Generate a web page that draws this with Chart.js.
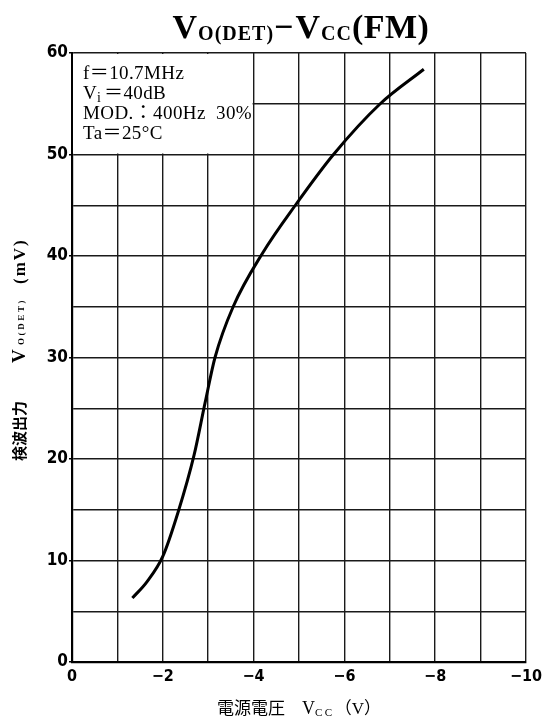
<!DOCTYPE html>
<html lang="ja">
<head>
  <meta charset="UTF-8">
  <title>VO(DET) - VCC (FM)</title>
  <script src="https://cdn.jsdelivr.net/npm/chart.js"></script>
  <style>
    html, body { margin: 0; padding: 0; background: #fff; }
    #wrap { width: 547px; height: 720px; position: relative; }
  </style>
</head>
<body>
  <div id="wrap"><canvas id="chart"></canvas></div>
  <script>
    // supply voltage (V) and detector output (mV)
    const vcc = [-1.33, -1.65, -2.0, -2.34, -2.69, -2.93, -3.15, -3.55, -4.2, -4.92, -5.76, -6.79, -7.75];
    const vout = [6.3, 7.9, 10.4, 14.8, 20.4, 25.5, 30.0, 35.0, 40.3, 45.0, 50.0, 55.0, 58.4];

    // tick labels
    const xTickValues = [0, -2, -4, -6, -8, -10];
    const xTickTexts = ['0', '−2', '−4', '−6', '−8', '−10'];
    const yTickValues = [0, 10, 20, 30, 40, 50, 60];

    // condition notes in the upper-left box
    const notes = [
      [['f＝10.7MHz']],
      [['V'], ['i', 'sub'], ['＝40dB']],
      [['MOD.：400Hz  30%']],
      [['Ta＝25°C']]
    ];

    const SERIF = '"Liberation Serif", "Noto Sans CJK JP", serif';
    const CJK = '"Noto Sans CJK JP", sans-serif';
    const TICKFONT = '"Liberation Sans Narrow", "DejaVu Sans Condensed", "Liberation Sans", sans-serif';

    // draws text pieces one after another, returns end x
    function drawPieces(ctx, pieces, x, y) {
      pieces.forEach(p => {
        ctx.font = p.font;
        ctx.letterSpacing = (p.ls || 0) + 'px';
        ctx.fillText(p.t, x, y + (p.dy || 0));
        x += ctx.measureText(p.t).width + (p.gap || 0);
      });
      ctx.letterSpacing = '0px';
      return x;
    }
    function piecesWidth(ctx, pieces) {
      let w = 0;
      pieces.forEach(p => {
        ctx.font = p.font;
        ctx.letterSpacing = (p.ls || 0) + 'px';
        w += ctx.measureText(p.t).width + (p.gap || 0);
      });
      ctx.letterSpacing = '0px';
      return w;
    }

    const textPlugin = {
      id: 'texts',
      beforeDatasetsDraw(chart) {
        // blank out the grid behind the condition notes
        const { ctx, scales: { x, y } } = chart;
        const l = x.getPixelForValue(0), r = x.getPixelForValue(-4);
        const t = y.getPixelForValue(60), b = y.getPixelForValue(50);
        ctx.save();
        ctx.fillStyle = '#fff';
        ctx.fillRect(l + 1, t + 1, r - l - 2, b - t - 2);
        ctx.restore();
      },
      afterDraw(chart) {
        const { ctx } = chart;
        ctx.save();
        ctx.fillStyle = '#000';
        ctx.textBaseline = 'alphabetic';
        ctx.textAlign = 'left';

        // title
        const big = 'bold 34px ' + SERIF;
        const small = 'bold 20px ' + SERIF;
        const title = [
          { t: 'V', font: big, gap: 1 },
          { t: 'O(DET)', font: small, dy: 2, ls: 1 },
          { t: '−', font: big, gap: 2 },
          { t: 'V', font: big, gap: 1 },
          { t: 'CC', font: small, dy: 2, ls: 1 },
          { t: '(FM)', font: big, ls: 0.5 }
        ];
        const tw = piecesWidth(ctx, title);
        drawPieces(ctx, title, 301 - tw / 2, 38);

        // notes
        notes.forEach((line, i) => {
          const pieces = line.map(([t, k]) => k === 'sub'
            ? { t, font: '14px ' + SERIF, dy: 3, gap: 3 }
            : { t, font: '19px ' + SERIF, ls: 0.4 });
          drawPieces(ctx, pieces, 83, 79 + i * 20);
        });

        // x axis title
        drawPieces(ctx, [{ t: '電源電圧', font: '17px ' + CJK }], 217, 714);
        drawPieces(ctx, [
          { t: 'V', font: '18px ' + SERIF },
          { t: 'CC', font: '11px ' + SERIF, dy: 2, ls: 2.5 },
          { t: '（V）', font: '17px ' + SERIF }
        ], 302, 714);

        // y axis title (rotated)
        ctx.translate(25, 0);
        ctx.rotate(-Math.PI / 2);
        drawPieces(ctx, [{ t: '検波出力', font: 'bold 15px ' + CJK }], -461, 0);
        drawPieces(ctx, [{ t: 'V', font: 'bold 19px ' + SERIF }], -363, 0);
        drawPieces(ctx, [{ t: 'O(DET)', font: 'bold 9px ' + SERIF, ls: 2.6 }], -345, -1);
        drawPieces(ctx, [{ t: '(mV)', font: 'bold 17px ' + SERIF, ls: 2 }], -284, 0);
        ctx.restore();
      }
    };

    const canvas = document.getElementById('chart');
    canvas.width = 547;
    canvas.height = 720;

    new Chart(canvas.getContext('2d'), {
      type: 'line',
      data: {
        datasets: [{
          data: vcc.map((v, i) => ({ x: v, y: vout[i] })),
          borderColor: '#000',
          borderWidth: 3,
          pointRadius: 0,
          fill: false,
          cubicInterpolationMode: 'monotone'
        }]
      },
      options: {
        responsive: false,
        animation: false,
        devicePixelRatio: 1,
        layout: { padding: { left: 0, right: 19, top: 53, bottom: 0 } },
        plugins: { legend: { display: false }, title: { display: false }, tooltip: { enabled: false } },
        scales: {
          x: {
            type: 'linear',
            min: -10,
            max: 0,
            reverse: true,
            afterBuildTicks: s => {
              s.ticks = [];
              for (let v = 0; v >= -10; v--) s.ticks.push({ value: v });
            },
            afterFit: s => { s.height = 58; },
            ticks: {
              autoSkip: false,
              maxRotation: 0,
              padding: 5,
              color: '#000',
              font: { family: TICKFONT, size: 16, weight: 'bold' },
              callback: v => {
                const i = xTickValues.indexOf(v);
                return i >= 0 ? xTickTexts[i] : '';
              }
            },
            grid: { color: '#1a1a1a', lineWidth: 1.4, drawTicks: false },
            border: { display: true, color: '#000', width: 2.2 }
          },
          y: {
            min: 0,
            max: 60,
            afterBuildTicks: s => {
              s.ticks = [];
              for (let v = 0; v <= 60; v += 5) s.ticks.push({ value: v });
            },
            afterFit: s => { s.width = 72; },
            ticks: {
              autoSkip: false,
              padding: 1,
              color: '#000',
              font: { family: TICKFONT, size: 17, weight: 'bold' },
              callback: v => yTickValues.includes(v) ? String(v) : ''
            },
            grid: {
              color: '#1a1a1a',
              lineWidth: 1.4,
              tickLength: 3,
              tickColor: c => yTickValues.includes(c.tick.value) ? '#000' : 'rgba(0,0,0,0)'
            },
            border: { display: true, color: '#000', width: 2.2 }
          }
        }
      },
      plugins: [textPlugin]
    });
  </script>
</body>
</html>
